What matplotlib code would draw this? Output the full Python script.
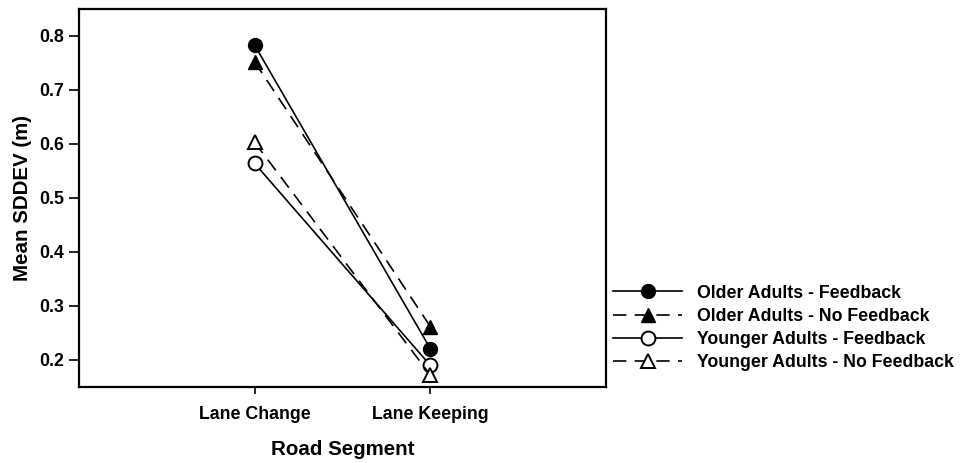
import matplotlib
matplotlib.use("Agg")
import matplotlib.pyplot as plt

plt.rcParams['font.family'] = ['Liberation Sans', 'DejaVu Sans']
plt.rcParams['font.weight'] = 'bold'

categories = ["Lane Change", "Lane Keeping"]
older_fb = [0.783, 0.221]
older_nofb = [0.752, 0.262]
younger_fb = [0.564, 0.190]
younger_nofb = [0.603, 0.172]
yticks = [0.2, 0.3, 0.4, 0.5, 0.6, 0.7, 0.8]

fig = plt.figure(figsize=(9.61, 4.63), dpi=100)
ax = fig.add_axes([79/961, 1 - 387/463, (606-79)/961, (387-9)/463])

x = [1, 2]
lw = 1.2
dash = (0, (8, 5))
l1, = ax.plot(x, older_fb, color='black', lw=lw, ls='-', marker='o', ms=10,
              mfc='black', mec='black', label='Older Adults - Feedback')
l2, = ax.plot(x, older_nofb, color='black', lw=lw, ls=dash, marker='^', ms=10,
              mfc='black', mec='black', label='Older Adults - No Feedback')
l3, = ax.plot(x, younger_fb, color='black', lw=lw, ls='-', marker='o', ms=10,
              mfc='white', mec='black', mew=1.4, label='Younger Adults - Feedback')
l4, = ax.plot(x, younger_nofb, color='black', lw=lw, ls=dash, marker='^', ms=10,
              mfc='white', mec='black', mew=1.4, label='Younger Adults - No Feedback')

ax.set_xlim(0, 3)
ax.set_ylim(0.15, 0.85)
ax.set_xticks(x)
ax.set_xticklabels(categories)
ax.set_yticks(yticks)
ax.set_yticklabels([f"{v:.1f}" for v in yticks])
ax.tick_params(axis='both', labelsize=12.8, width=1.2, direction='out')
ax.tick_params(axis='y', length=7, pad=4)
ax.tick_params(axis='x', length=5, pad=9)
for s in ax.spines.values():
    s.set_linewidth(1.6)

ax.set_ylabel("Mean SDDEV (m)", fontsize=14.8, fontweight='bold', labelpad=5)
ax.set_xlabel("Road Segment", fontsize=14.8, fontweight='bold', labelpad=12)

fig.legend(handles=[l1, l2, l3, l4], loc='center left',
           bbox_to_anchor=(613/961, 1 - 328/463), frameon=False,
           fontsize=12.8, handlelength=3.9, handletextpad=0.85,
           labelspacing=0.35, borderpad=0, borderaxespad=0)

fig.savefig("out.png", dpi=100)
